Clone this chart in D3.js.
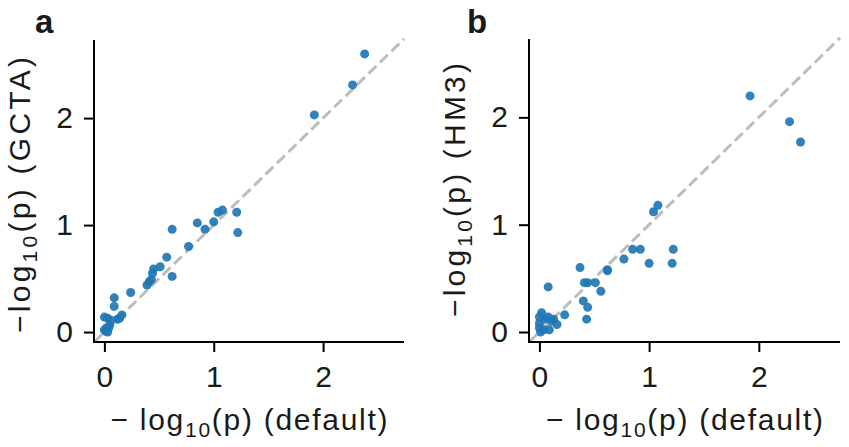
<!DOCTYPE html>
<html><head><meta charset="utf-8">
<script src="https://cdn.jsdelivr.net/npm/d3@7"></script>
<style>body{margin:0;background:#fff}svg{display:block}</style>
</head><body>
<svg id="chart" width="849" height="447"></svg>
<script>
// Panel a: default vs GCTA
const xA = [2.38,2.27,1.92,1.21,1.22,1.08,1.04,1.00,0.92,0.85,0.77,0.62,0.62,0.57,0.51,0.45,0.44,0.43,0.41,0.39,0.24,0.09,0.09,
            0.00,0.03,0.06,0.12,0.14,0.16,0.05,0.04,0.02,0.00,0.01,0.03];
const yA = [2.60,2.31,2.03,1.12,0.93,1.14,1.12,1.03,0.96,1.02,0.80,0.96,0.52,0.70,0.61,0.59,0.55,0.49,0.47,0.44,0.37,0.32,0.24,
            0.14,0.13,0.11,0.12,0.13,0.16,0.07,0.04,0.04,0.02,0.01,0.00];
// Panel b: default vs HM3
const xB = [1.92,2.28,2.38,1.08,1.04,1.22,1.21,1.00,0.92,0.85,0.77,0.62,0.62,0.37,0.51,0.44,0.41,0.56,0.40,0.44,0.43,0.23,0.08,
            0.02,0.00,0.08,0.13,0.16,0.09,0.01,0.00,0.00,0.04,0.05,0.11];
const yB = [2.20,1.96,1.77,1.18,1.12,0.77,0.64,0.64,0.77,0.77,0.68,0.58,0.57,0.60,0.46,0.46,0.46,0.38,0.29,0.23,0.12,0.16,0.42,
            0.18,0.14,0.14,0.12,0.07,0.02,0.00,0.08,0.04,0.02,0.12,0.10];
const ticks = [0, 1, 2];
const panelLetters = ["a", "b"];
const yLabelNames = ["GCTA", "HM3"];
const xLabelName = "default";

const svg = d3.select("#chart");
const FONT = "'Liberation Sans', Arial, sans-serif";
const panels = [
  {x: xA, y: yA, left: 94, right: 404, top: 40, bottom: 342, letterX: 35, ylabX: 30, ylabLen: 276, ylabCy: 195},
  {x: xB, y: yB, left: 529, right: 840, top: 39, bottom: 342, letterX: 467, ylabX: 465, ylabLen: 254, ylabCy: 190}
];
const dom = [-0.095, 2.74];

panels.forEach((p, i) => {
  const xs = d3.scaleLinear().domain(dom).range([p.left, p.right]);
  const ys = d3.scaleLinear().domain([-0.093, 2.73]).range([p.bottom, p.top]);
  const g = svg.append("g");

  g.append("line")
    .attr("x1", xs(dom[0])).attr("y1", ys(dom[0]))
    .attr("x2", xs(dom[1])).attr("y2", ys(dom[1]))
    .attr("stroke", "#bdbdbd").attr("stroke-width", 3)
    .attr("stroke-dasharray", "11,5");

  g.selectAll("circle").data(p.x.map((v, k) => [v, p.y[k]])).join("circle")
    .attr("cx", d => xs(d[0])).attr("cy", d => ys(d[1])).attr("r", 4.5)
    .attr("fill", "#1f77b4").attr("fill-opacity", 0.92);

  const xAxis = d3.axisBottom(xs).tickValues(ticks).tickFormat(d3.format("d")).tickSize(10).tickPadding(14);
  const yAxis = d3.axisLeft(ys).tickValues(ticks).tickFormat(d3.format("d")).tickSize(10).tickPadding(11);
  const gx = g.append("g").attr("transform", `translate(0,${p.bottom})`).call(xAxis);
  const gy = g.append("g").attr("transform", `translate(${p.left},0)`).call(yAxis);
  [gx, gy].forEach(ax => {
    ax.select(".domain").remove();
    ax.selectAll(".tick line").attr("stroke", "#000").attr("stroke-width", 2);
    ax.selectAll(".tick text").attr("font-family", FONT).attr("font-size", 30).attr("fill", "#1a1a1a");
  });
  g.append("line").attr("x1", p.left).attr("x2", p.right).attr("y1", p.bottom).attr("y2", p.bottom)
    .attr("stroke", "#000").attr("stroke-width", 2);
  g.append("line").attr("x1", p.left).attr("x2", p.left).attr("y1", p.top).attr("y2", p.bottom + 1)
    .attr("stroke", "#000").attr("stroke-width", 2);

  // x label
  const xl = g.append("text").attr("x", (p.left + p.right) / 2).attr("y", 430)
    .attr("text-anchor", "middle").attr("font-family", FONT).attr("font-size", 30).attr("fill", "#1a1a1a")
    .attr("textLength", 277).attr("lengthAdjust", "spacing");
  xl.append("tspan").text("\u2212 log");
  xl.append("tspan").attr("font-size", 21).attr("dy", 7).text("10");
  xl.append("tspan").attr("dy", -7).text("(p) (" + xLabelName + ")");

  // y label
  const yl = g.append("text")
    .attr("transform", `translate(${p.ylabX},${p.ylabCy}) rotate(-90)`)
    .attr("text-anchor", "middle").attr("font-family", FONT).attr("font-size", 30).attr("fill", "#1a1a1a")
    .attr("textLength", p.ylabLen).attr("lengthAdjust", "spacing");
  yl.append("tspan").text("\u2212log");
  yl.append("tspan").attr("font-size", 21).attr("dy", 7).text("10");
  yl.append("tspan").attr("dy", -7).text("(p) (" + yLabelNames[i] + ")");

  svg.append("text").attr("x", p.letterX).attr("y", 33)
    .attr("font-family", FONT).attr("font-weight", "bold").attr("font-size", 33).attr("fill", "#1a1a1a")
    .text(panelLetters[i]);
});
</script>
</body></html>
